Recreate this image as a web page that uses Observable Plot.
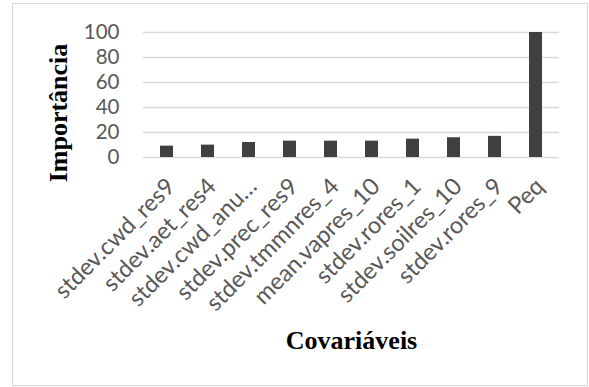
<!DOCTYPE html>
<html>
<head>
<meta charset="utf-8">
<script src="https://cdn.jsdelivr.net/npm/d3@7"></script>
<script src="https://cdn.jsdelivr.net/npm/@observablehq/plot@0.6"></script>
<style>
  html, body { margin: 0; padding: 0; background: #ffffff; }
</style>
</head>
<body>
<div id="chart"></div>
<script>
const categories = [
  "stdev.cwd_res9",
  "stdev.aet_res4",
  "stdev.cwd_anu…",
  "stdev.prec_res9",
  "stdev.tmmnres_4",
  "mean.vapres_10",
  "stdev.rores_1",
  "stdev.soilres_10",
  "stdev.rores_9",
  "Peq"
];
const importance = [9.1, 9.9, 12.0, 13.1, 13.1, 13.1, 14.7, 15.8, 16.9, 100];
const yTicks = [0, 20, 40, 60, 80, 100];
const yTitle = "Importância";
const xTitle = "Covariáveis";

const data = categories.map((c, i) => ({cat: c, value: importance[i]}));

const chart = Plot.plot({
  width: 589,
  height: 387,
  marginLeft: 143,
  marginRight: 30,
  marginTop: 32,
  marginBottom: 230,
  style: {fontFamily: "Lato", fontSize: "20px", color: "#595959", background: "#ffffff"},
  x: {domain: categories, paddingInner: 0.69, paddingOuter: 0.345, label: null},
  y: {domain: [0, 100], ticks: yTicks, label: null},
  marks: [
    Plot.frame({stroke: "#d9d9d9", insetLeft: -131, insetTop: -29, insetRight: -28, insetBottom: -228}),
    Plot.gridY(yTicks, {stroke: "#d9d9d9", strokeOpacity: 1, strokeWidth: 1.3}),
    Plot.barY(data, {x: "cat", y: "value", fill: "#404040"}),
    Plot.axisY({ticks: yTicks, tickSize: 0, tickPadding: 24, label: null, fontSize: 20.5}),
    Plot.axisX({tickSize: 0, tickRotate: -45, tickPadding: 25, dx: 4, label: null, fontSize: 23.5}),
    Plot.text([yTitle], {frameAnchor: "left", rotate: -90, dx: -85, dy: 18, text: d => d,
      textAnchor: "middle", lineAnchor: "middle",
      fontFamily: "Liberation Serif", fontWeight: "bold", fontSize: 26, fill: "#000000"}),
    Plot.text([xTitle], {frameAnchor: "bottom", dy: 183, text: d => d,
      textAnchor: "middle", lineAnchor: "middle",
      fontFamily: "Liberation Serif", fontWeight: "bold", fontSize: 26, fill: "#000000"})
  ]
});
document.getElementById("chart").appendChild(chart);
</script>
</body>
</html>
